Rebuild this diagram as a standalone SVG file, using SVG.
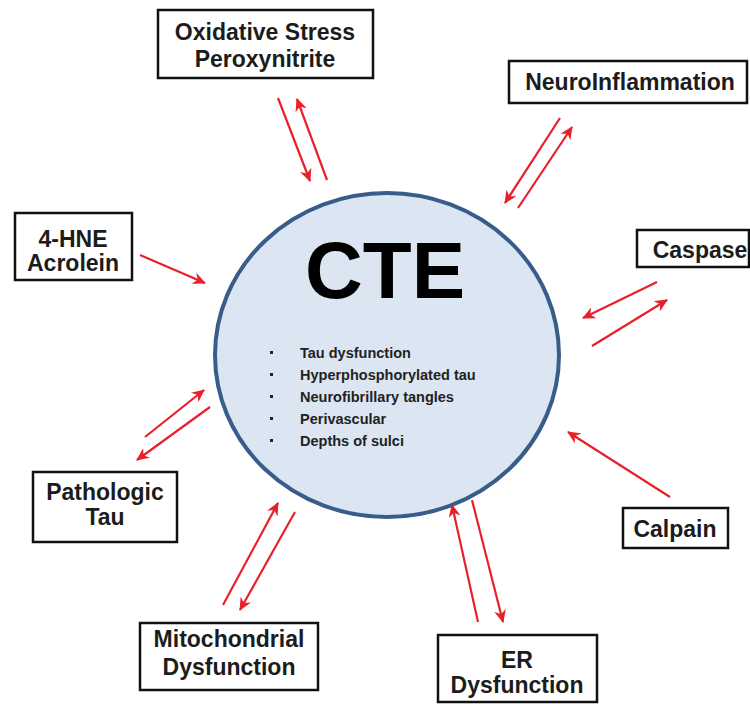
<svg xmlns="http://www.w3.org/2000/svg" width="750" height="704" viewBox="0 0 750 704">
<defs>
<style>
.box{fill:#fff;stroke:#111;stroke-width:2.5}
.lbl{font-family:"Liberation Sans",Arial,sans-serif;font-weight:bold;font-size:23px;fill:#1c1c1c;text-anchor:middle}
.bul{font-family:"Liberation Sans",Arial,sans-serif;font-weight:bold;font-size:14.5px;fill:#222}
.arr{stroke:#e8202a;stroke-width:2.2;fill:none;marker-end:url(#ah)}
</style>
<marker id="ah" markerUnits="userSpaceOnUse" markerWidth="14" markerHeight="12" refX="12" refY="6" orient="auto">
<path d="M0,0 L13,6 L0,12 L4,6 z" fill="#e8202a"/>
</marker>
</defs>
<rect width="750" height="704" fill="#fff"/>
<g id="cte">
<ellipse cx="387" cy="355" rx="172" ry="162" fill="#dce6f2" stroke="#385d8a" stroke-width="4"/>
<text x="385" y="298" font-family="'Liberation Sans',Arial,sans-serif" font-weight="bold" font-size="80" text-anchor="middle" fill="#000">CTE</text>
<g fill="#222">
<rect x="270" y="351" width="3" height="3"/>
<rect x="270" y="373" width="3" height="3"/>
<rect x="270" y="395" width="3" height="3"/>
<rect x="270" y="417" width="3" height="3"/>
<rect x="270" y="439" width="3" height="3"/>
</g>
<text class="bul" x="300" y="358">Tau dysfunction</text>
<text class="bul" x="300" y="380">Hyperphosphorylated tau</text>
<text class="bul" x="300" y="402">Neurofibrillary tangles</text>
<text class="bul" x="300" y="424">Perivascular</text>
<text class="bul" x="300" y="446">Depths of sulci</text>
</g>
<g id="oxidative">
<rect class="box" x="158" y="10" width="215" height="68"/>
<text class="lbl" x="265" y="40">Oxidative Stress</text>
<text class="lbl" x="265" y="67">Peroxynitrite</text>
</g>
<g id="neuroinflammation">
<rect class="box" x="509" y="61" width="238" height="42"/>
<text class="lbl" x="630" y="90">NeuroInflammation</text>
</g>
<g id="caspase">
<rect class="box" x="637" y="230" width="112" height="37"/>
<text class="lbl" x="700" y="258">Caspase</text>
</g>
<g id="hne">
<rect class="box" x="15" y="213" width="117" height="67"/>
<text class="lbl" x="73" y="247">4-HNE</text>
<text class="lbl" x="73" y="271">Acrolein</text>
</g>
<g id="pathologic">
<rect class="box" x="33" y="472" width="144" height="70"/>
<text class="lbl" x="105" y="500">Pathologic</text>
<text class="lbl" x="105" y="525">Tau</text>
</g>
<g id="mito">
<rect class="box" x="140" y="623" width="178" height="67"/>
<text class="lbl" x="229" y="647">Mitochondrial</text>
<text class="lbl" x="229" y="675">Dysfunction</text>
</g>
<g id="er">
<rect class="box" x="438" y="635" width="159" height="67"/>
<text class="lbl" x="517" y="668">ER</text>
<text class="lbl" x="517" y="693">Dysfunction</text>
</g>
<g id="calpain">
<rect class="box" x="623" y="508" width="105" height="40"/>
<text class="lbl" x="675" y="537">Calpain</text>
</g>
<g id="connectors">
<line class="arr" x1="278" y1="98" x2="310" y2="181"/>
<line class="arr" x1="327" y1="180" x2="297" y2="99"/>
<line class="arr" x1="560" y1="118" x2="505" y2="203"/>
<line class="arr" x1="518" y1="208" x2="572" y2="127"/>
<line class="arr" x1="657" y1="282" x2="583" y2="318"/>
<line class="arr" x1="592" y1="346" x2="667" y2="300"/>
<line class="arr" x1="140" y1="255" x2="205" y2="283"/>
<line class="arr" x1="145" y1="437" x2="204" y2="390"/>
<line class="arr" x1="210" y1="407" x2="137" y2="460"/>
<line class="arr" x1="223" y1="605" x2="278" y2="503"/>
<line class="arr" x1="295" y1="512" x2="240" y2="610"/>
<line class="arr" x1="478" y1="622" x2="452" y2="505"/>
<line class="arr" x1="472" y1="500" x2="503" y2="622"/>
<line class="arr" x1="670" y1="497" x2="568" y2="432"/>
</g>
</svg>
